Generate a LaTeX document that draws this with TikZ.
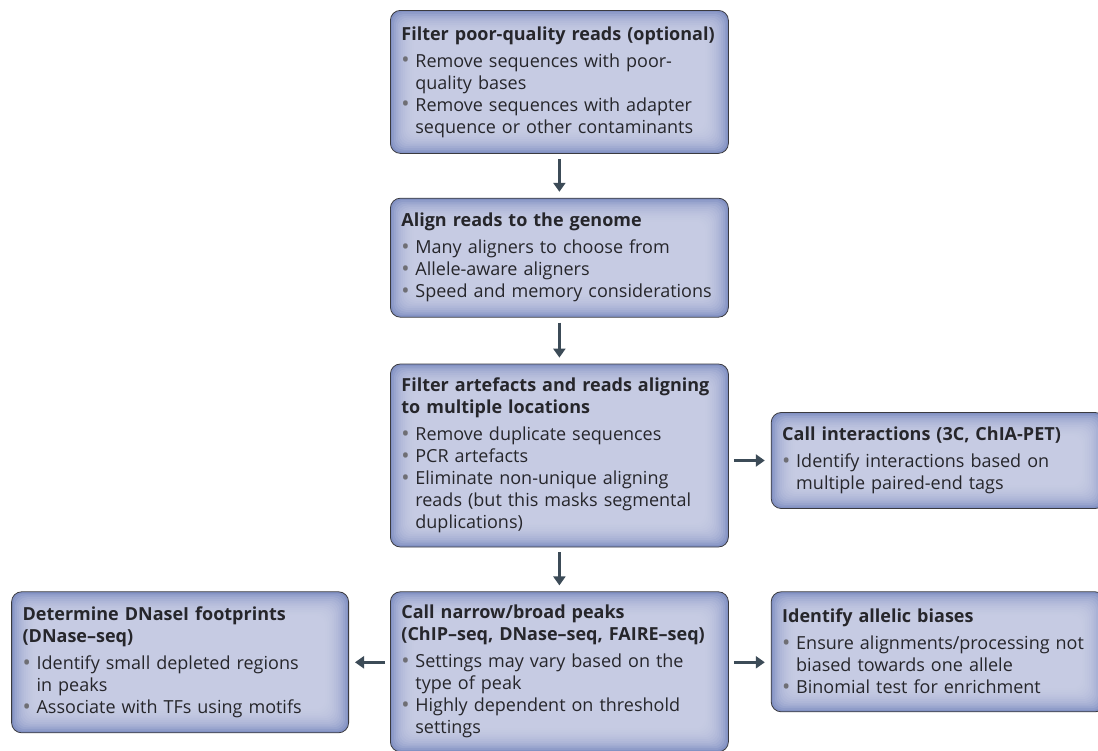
\documentclass[tikz,border=0pt]{standalone}
\usepackage{fontspec}
\setmainfont{Open Sans}
\usetikzlibrary{positioning,arrows.meta,calc}

\definecolor{boxedge}{HTML}{3A3A3F}
\definecolor{boxin}{HTML}{D0D4E9}
\definecolor{boxout}{HTML}{8291C3}
\definecolor{arrowcol}{HTML}{3C4B57}
\definecolor{dotcol}{HTML}{6E6E74}
\definecolor{txtcol}{HTML}{26262B}

% bullet line with hanging indent
\newcommand{\bul}[1]{\par\hangindent=14pt\hangafter=1\noindent\makebox[14pt][l]{\textcolor{dotcol}{\raisebox{-0.5pt}{\fontsize{22}{22}\selectfont\textbullet}}}#1\par}
\newcommand{\boxtitle}[1]{{\bfseries #1}\par\vspace{5pt}}

\tikzset{
  glow/.style={path picture={
    \foreach \i in {1,...,13}
      \fill[boxin, opacity=0.17, rounded corners=10pt]
        ($(path picture bounding box.south west)+(\i*1.8pt,\i*1.8pt)$) rectangle
        ($(path picture bounding box.north east)-(\i*1.8pt,\i*1.8pt)$);}},
  stage/.style={draw=boxedge, line width=0.8pt, rounded corners=10pt,
    fill=boxout, glow,
    minimum width=338pt, text width=316pt, align=left, inner xsep=11pt,
    text=txtcol, font=\fontsize{18}{22}\selectfont},
  flow/.style={draw=arrowcol, line width=3pt,
    -{Triangle[length=9pt,width=12pt]}, shorten >=6pt, shorten <=5pt}
}

\begin{document}
\begin{tikzpicture}[x=1pt,y=-1pt]
  \useasboundingbox (0,0) rectangle (1098,750);

  \node[stage, anchor=north west, minimum height=143pt] (filter) at (390,10)
    {\boxtitle{Filter poor-quality reads (optional)}
     \bul{Remove sequences with poor-\newline quality bases}
     \bul{Remove sequences with adapter\newline sequence or other contaminants}};
  \node[stage, below=44pt of filter, minimum height=119pt] (align)
    {\boxtitle{Align reads to the genome}
     \bul{Many aligners to choose from}
     \bul{Allele-aware aligners}
     \bul{Speed and memory considerations}};
  \node[stage, below=46pt of align, minimum height=183pt] (artefacts)
    {\boxtitle{Filter artefacts and reads aligning\\to multiple locations}
     \bul{Remove duplicate sequences}
     \bul{PCR artefacts}
     \bul{Eliminate non-unique aligning\newline reads (but this masks segmental\newline duplications)}};
  \node[stage, below=44pt of artefacts, minimum height=160pt] (peaks)
    {\boxtitle{Call narrow/broad peaks\\(ChIP--seq, DNase--seq, FAIRE--seq)}
     \bul{Settings may vary based on the\newline type of peak}
     \bul{Highly dependent on threshold\newline settings}};

  \node[stage, right=42pt of artefacts.east, yshift=-5pt, minimum height=96pt,
    minimum width=334pt, text width=312pt] (interact)
    {\boxtitle{Call interactions (3C, ChIA-PET)}
     \bul{Identify interactions based on\newline multiple paired-end tags}};
  \node[stage, left=41pt of peaks.north west, anchor=north east,
    minimum height=141pt, minimum width=337pt, text width=315pt] (dnase)
    {\boxtitle{Determine DNaseI footprints\\(DNase--seq)}
     \bul{Identify small depleted regions\newline in peaks}
     \bul{Associate with TFs using motifs}};
  \node[stage, right=42pt of peaks.north east, anchor=north west,
    minimum height=120pt, minimum width=334pt, text width=312pt] (allelic)
    {\boxtitle{Identify allelic biases}
     \bul{Ensure alignments/processing not\newline biased towards one allele}
     \bul{Binomial test for enrichment}};

  \draw[flow] (filter) -- (align);
  \draw[flow] (align) -- (artefacts);
  \draw[flow] (artefacts) -- (peaks);
  \draw[flow] (artefacts.east |- interact.west) -- (interact.west);
  \draw[flow] (peaks.west |- dnase.east) -- (dnase.east);
  \draw[flow] (peaks.east |- dnase.east) -- (allelic.west |- dnase.east);
\end{tikzpicture}
\end{document}
